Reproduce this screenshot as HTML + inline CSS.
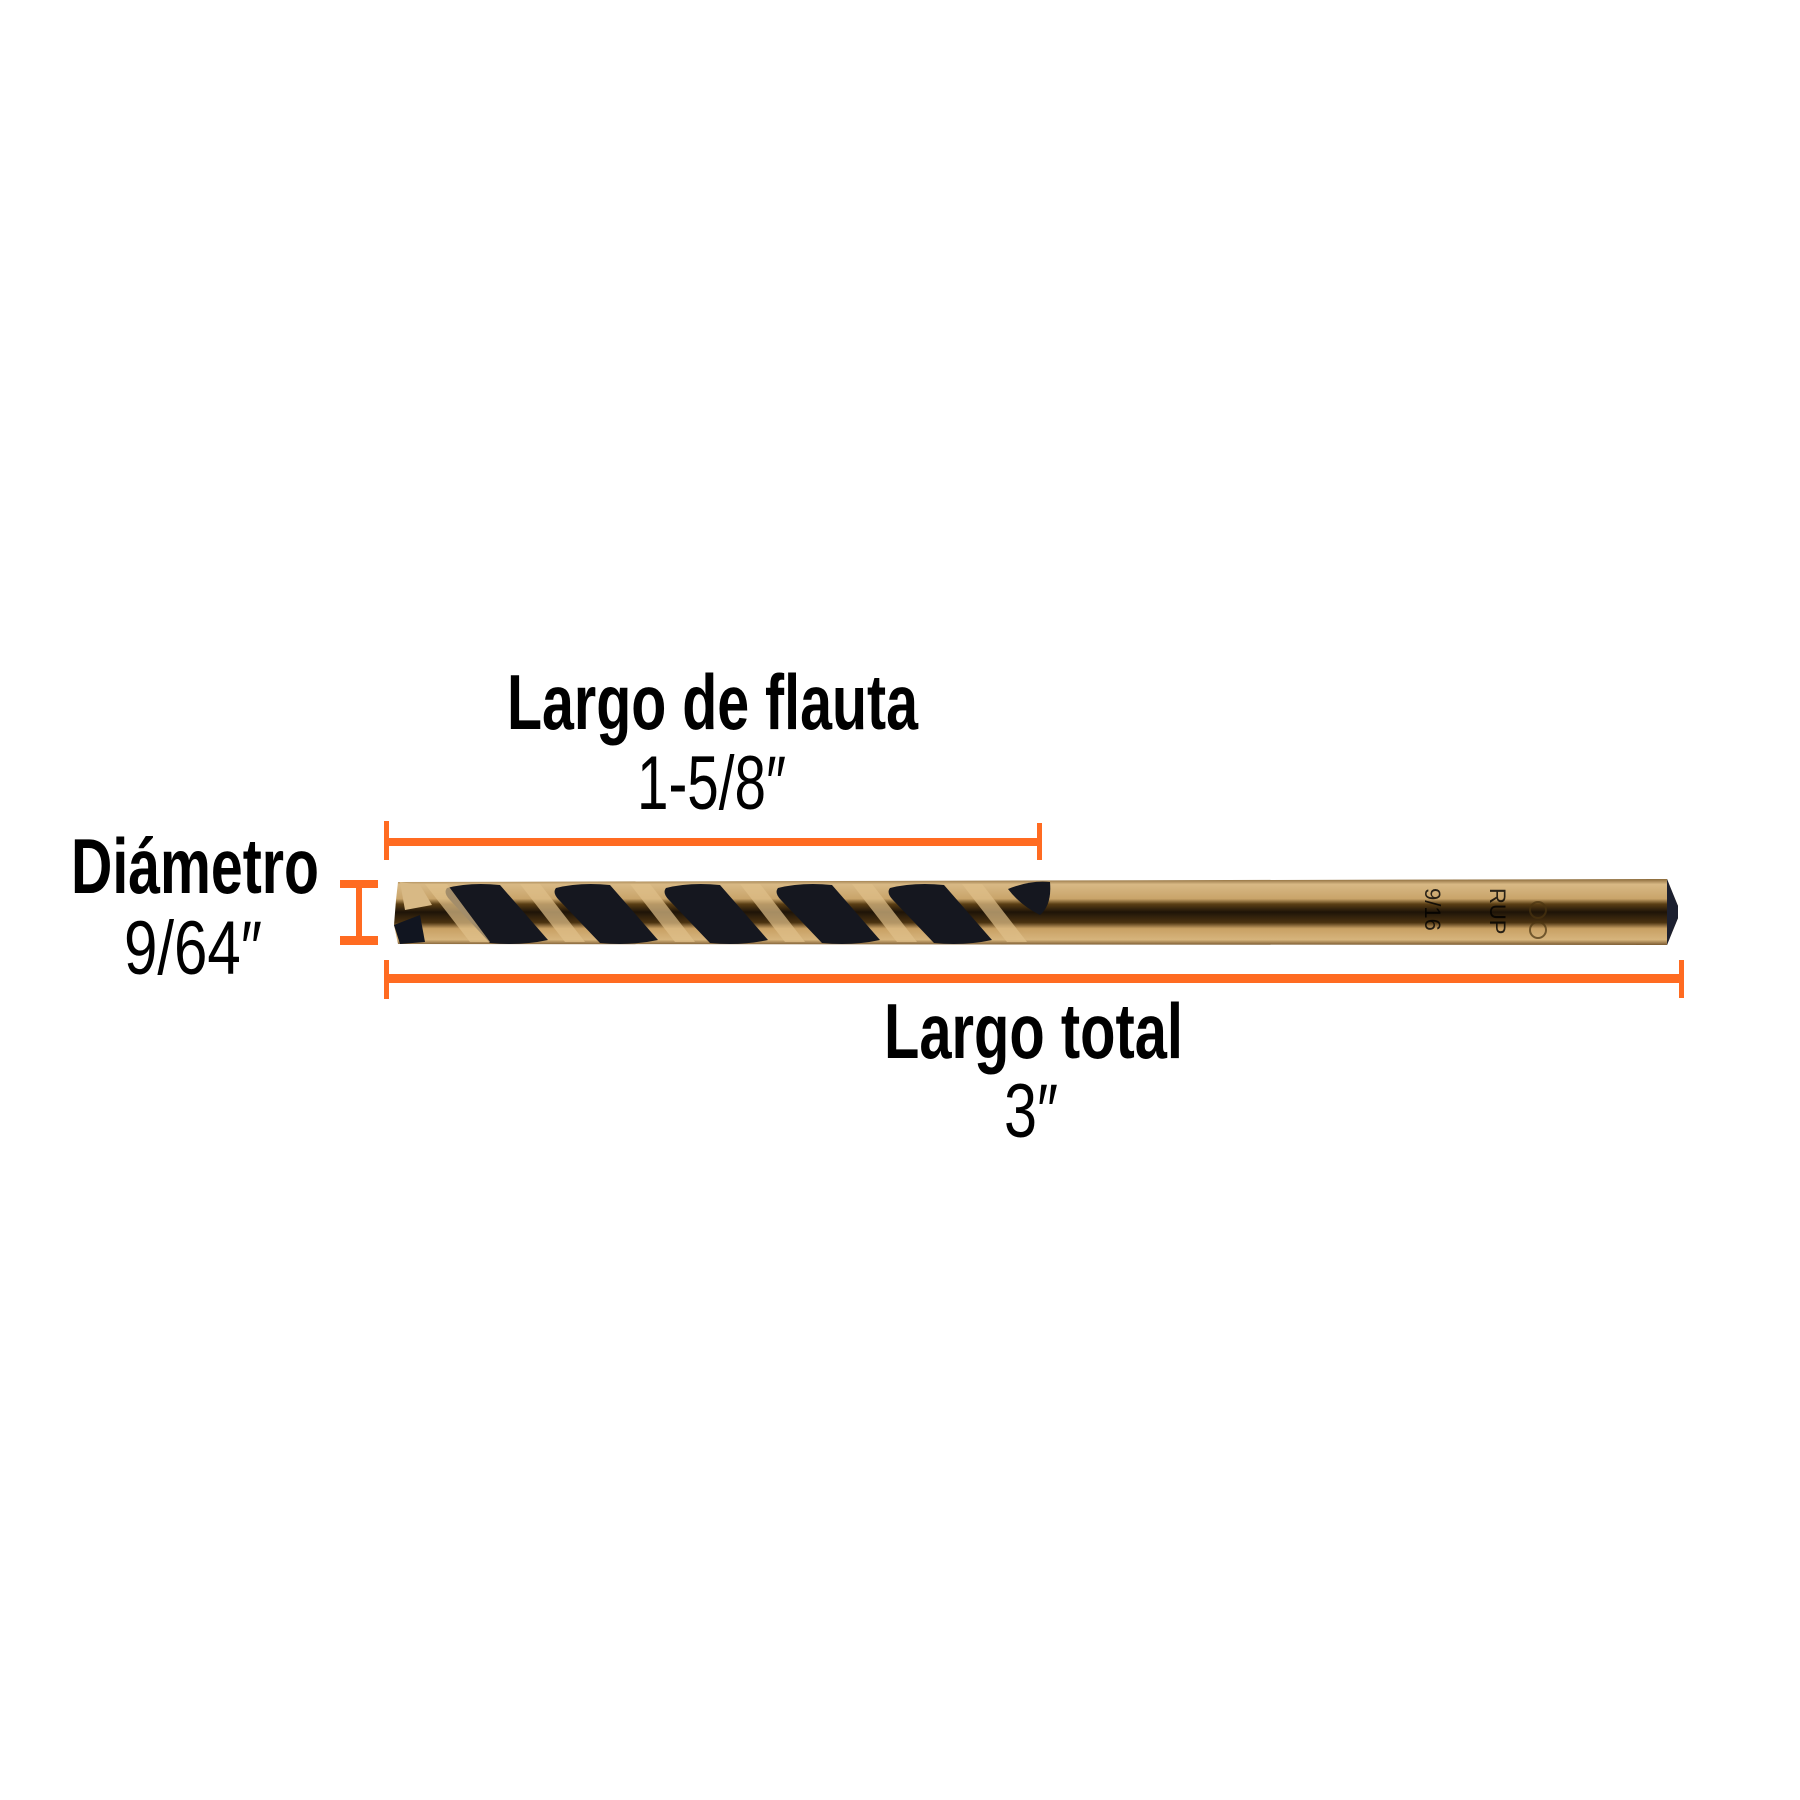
<!DOCTYPE html>
<html><head><meta charset="utf-8"><style>
html,body{margin:0;padding:0;background:#fff;}
svg{display:block;}
text{font-family:"Liberation Sans",sans-serif;fill:#000;}
</style></head><body>
<svg width="1800" height="1800" viewBox="0 0 1800 1800" xmlns="http://www.w3.org/2000/svg">
<defs>
<linearGradient id="g" x1="0" y1="0" x2="0" y2="1">
<stop offset="0" stop-color="#8a6a3a"/>
<stop offset="0.08" stop-color="#d8b985"/>
<stop offset="0.3" stop-color="#c9a46a"/>
<stop offset="0.38" stop-color="#5a3e14"/>
<stop offset="0.5" stop-color="#1e1408"/>
<stop offset="0.66" stop-color="#4a3210"/>
<stop offset="0.75" stop-color="#c8a064"/>
<stop offset="0.92" stop-color="#d6b47c"/>
<stop offset="1" stop-color="#7a5a30"/>
</linearGradient>
</defs>
<!-- Labels -->
<text x="507" y="729" font-size="78" font-weight="bold" textLength="411" lengthAdjust="spacingAndGlyphs">Largo de flauta</text>
<text x="637" y="809" font-size="76" textLength="149" lengthAdjust="spacingAndGlyphs">1-5/8″</text>
<text x="71" y="893" font-size="78" font-weight="bold" textLength="248" lengthAdjust="spacingAndGlyphs">Diámetro</text>
<text x="124" y="974" font-size="76" textLength="138" lengthAdjust="spacingAndGlyphs">9/64″</text>
<text x="884" y="1058" font-size="78" font-weight="bold" textLength="299" lengthAdjust="spacingAndGlyphs">Largo total</text>
<text x="1004" y="1137" font-size="76" textLength="54" lengthAdjust="spacingAndGlyphs">3″</text>
<!-- dimension lines -->
<g fill="#ff6b21">
<rect x="384" y="838" width="657" height="8"/>
<rect x="384" y="821" width="5" height="39"/>
<rect x="1037" y="823" width="5" height="37"/>
<rect x="384" y="974" width="1300" height="9"/>
<rect x="384" y="960" width="5" height="39"/>
<rect x="1679" y="960" width="5" height="38"/>
<rect x="340" y="880" width="38" height="8"/>
<rect x="340" y="936" width="38" height="9"/>
<rect x="356" y="884" width="6" height="56"/>
</g>
<!-- drill body -->
<path d="M398 882 L1667 879 L1678 906 L1678 918 L1667 945 L398 944 L394 925 L396 900 Z" fill="url(#g)"/>
<path d="M1667 879 L1678 906 L1678 918 L1667 945 Z" fill="#1c2030"/>
<!-- tip -->
<path d="M394 925 L400 944 L425 942 L420 915 Z" fill="#111520"/>
<path d="M400 882 L420 885 L432 905 L405 910 Z" fill="#d8b985"/>
<!-- flutes -->
<g fill="#15171f">
<path d="M447 888 Q470 882 500 885 L548 940 Q520 946 490 943 L450 900 Q443 893 447 888 Z"/>
<path d="M556 888 Q580 882 610 885 L658 940 Q630 946 600 943 L559 900 Q552 893 556 888 Z"/>
<path d="M666 888 Q690 882 720 885 L768 940 Q740 946 710 943 L669 900 Q662 893 666 888 Z"/>
<path d="M778 888 Q802 882 832 885 L880 940 Q852 946 822 943 L781 900 Q774 893 778 888 Z"/>
<path d="M890 888 Q914 882 944 885 L992 940 Q964 946 934 943 L893 900 Q886 893 890 888 Z"/>
<path d="M1008 889 Q1030 880 1050 882 Q1052 905 1040 915 Q1020 905 1008 889 Z"/>
</g>
<!-- gold highlight strips on flutes -->
<g fill="#e0c08a" opacity="0.7">
<path d="M425 884 L447 884 L490 942 L470 942 Z"/>
<path d="M520 884 L540 884 L585 942 L565 942 Z"/>
<path d="M630 884 L650 884 L695 942 L675 942 Z"/>
<path d="M740 884 L760 884 L805 942 L785 942 Z"/>
<path d="M852 884 L872 884 L917 942 L897 942 Z"/>
<path d="M962 884 L982 884 L1027 942 L1007 942 Z"/>
</g>
<!-- shank marking -->
<g fill="none" stroke="#4a3410" stroke-width="2" opacity="0.7">
<circle cx="1538" cy="910" r="8"/>
<circle cx="1538" cy="930" r="8"/>
</g>
<text x="0" y="0" font-size="22" fill="#5a4018" opacity="0.8" transform="translate(1425 888) rotate(90)">9/16</text>
<text x="0" y="0" font-size="22" fill="#5a4018" opacity="0.8" transform="translate(1490 888) rotate(90)">RUP</text>
</svg>
</body></html>
